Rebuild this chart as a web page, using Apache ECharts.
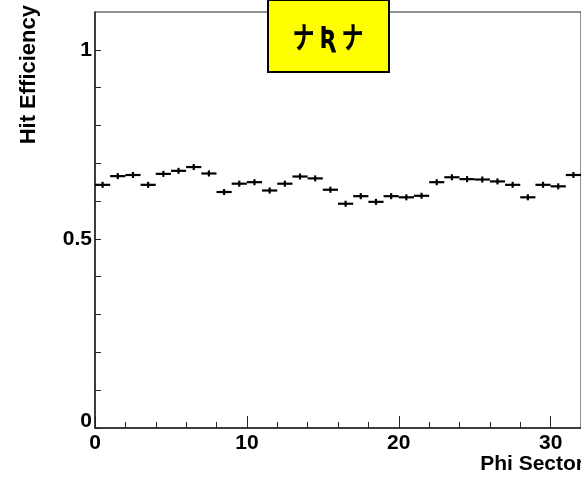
<!DOCTYPE html>
<html>
<head>
<meta charset="utf-8">
<script src="https://cdn.jsdelivr.net/npm/echarts@6/dist/echarts.min.js"></script>
<style>html,body{margin:0;padding:0;background:#fff;}#c{width:581px;height:477px;}</style>
</head>
<body>
<div id="c"></div>
<script>
var titleText = 'ナ Ʀ ナ';
var xTitle = 'Phi Sector';
var yTitle = 'Hit Efficiency';
var binStarts = [0,1,2,3,4,5,6,7,8,9,10,11,12,13,14,15,16,17,18,19,20,21,22,23,24,25,26,27,28,29,30,31];
var efficiency = [0.643,0.666,0.669,0.643,0.672,0.680,0.690,0.673,0.624,0.646,0.650,0.628,0.646,0.665,0.660,0.630,
                  0.593,0.613,0.598,0.613,0.610,0.614,0.650,0.663,0.658,0.657,0.652,0.643,0.610,0.643,0.639,0.669];
var errors = [0.008,0.008,0.008,0.008,0.008,0.008,0.008,0.008,0.008,0.008,0.008,0.008,0.008,0.008,0.008,0.008,
              0.008,0.008,0.008,0.008,0.008,0.008,0.008,0.008,0.008,0.008,0.008,0.008,0.008,0.008,0.008,0.008];
var yLabels = [0, 0.5, 1];
var xLabels = [0, 10, 20, 30];

var FONT = '"Liberation Sans", Arial, sans-serif';
var chart = echarts.init(document.getElementById('c'), null, {renderer: 'canvas'});
var data = binStarts.map(function (s, i) { return [s, s + 1, efficiency[i], errors[i]]; });

function isLabel(list, v) {
  for (var i = 0; i < list.length; i++) if (Math.abs(list[i] - v) < 1e-6) return true;
  return false;
}

var option = {
  animation: false,
  backgroundColor: '#ffffff',
  grid: {left: 95, top: 12, width: 487, height: 416, show: true, borderColor: '#222', borderWidth: 1, backgroundColor: 'transparent'},
  xAxis: [{
    type: 'value', min: 0, max: 32, interval: 2,
    axisLine: {show: true, onZero: false, lineStyle: {color: '#222', width: 1.5}},
    axisTick: {show: true, inside: true, length: 6, lineStyle: {color: '#222', width: 1}},
    axisLabel: {show: false},
    splitLine: {show: false}
  }, {
    type: 'value', min: 0, max: 32, interval: 10, position: 'bottom',
    axisLine: {show: false, onZero: false},
    axisTick: {show: true, inside: true, length: 12, lineStyle: {color: '#222', width: 1}},
    axisLabel: {show: true, margin: 5, color: '#000', fontFamily: FONT, fontWeight: 'bold', fontSize: 21,
      showMaxLabel: false,
      formatter: function (v) { return isLabel(xLabels, v) ? String(v) : ''; }},
    splitLine: {show: false}
  }],
  yAxis: {
    type: 'value', min: 0, max: 1.1, interval: 0.1,
    axisLine: {show: true, onZero: false, lineStyle: {color: '#222', width: 1.5}},
    axisTick: {show: true, inside: true, length: 6, lineStyle: {color: '#222', width: 1}},
    axisLabel: {show: true, margin: 3, color: '#000', fontFamily: FONT, fontWeight: 'bold', fontSize: 21,
      showMaxLabel: false,
      formatter: function (v) {
        if (!isLabel(yLabels, v)) return '';
        if (Math.abs(v) < 1e-6) return '{z|0}';
        return String(Math.round(v * 10) / 10);
      },
      rich: {z: {fontFamily: FONT, fontWeight: 'bold', fontSize: 21, color: '#000', padding: [0, 0, 14, 0]}}},
    splitLine: {show: false}
  },
  series: [{
    type: 'custom',
    xAxisIndex: 0,
    yAxisIndex: 0,
    data: data,
    encode: {x: [0, 1], y: 2},
    renderItem: function (params, api) {
      var x0 = api.value(0), x1 = api.value(1), v = api.value(2), e = api.value(3);
      var pL = api.coord([x0, v]);
      var pR = api.coord([x1, v]);
      var pT = api.coord([(x0 + x1) / 2, v + e]);
      var pB = api.coord([(x0 + x1) / 2, v - e]);
      var st = {stroke: '#000', lineWidth: 2.2};
      return {
        type: 'group',
        children: [
          {type: 'line', shape: {x1: pL[0], y1: pL[1], x2: pR[0], y2: pR[1]}, style: st},
          {type: 'line', shape: {x1: pT[0], y1: pT[1], x2: pB[0], y2: pB[1]}, style: st}
        ]
      };
    }
  }],
  graphic: [
    {type: 'text', x: 29, y: 5, rotation: Math.PI / 2,
      style: {text: yTitle, font: 'bold 22px ' + FONT, fill: '#000', align: 'right', verticalAlign: 'middle'}},
    {type: 'text', x: 584, y: 464,
      style: {text: xTitle, font: 'bold 21px ' + FONT, fill: '#000', align: 'right', verticalAlign: 'middle'}},
    {type: 'rect', shape: {x: 268, y: 0, width: 121, height: 72}, z: 100,
      style: {fill: '#ffff00', stroke: '#000', lineWidth: 2}},
    {type: 'text', x: 328, y: 37, z: 101, scaleY: 1.35,
      style: {text: titleText, font: 'bold 22px "Noto Sans CJK JP", "DejaVu Sans", sans-serif', fill: '#000', align: 'center', verticalAlign: 'middle'}}
  ]
};
chart.setOption(option);
</script>
</body>
</html>
